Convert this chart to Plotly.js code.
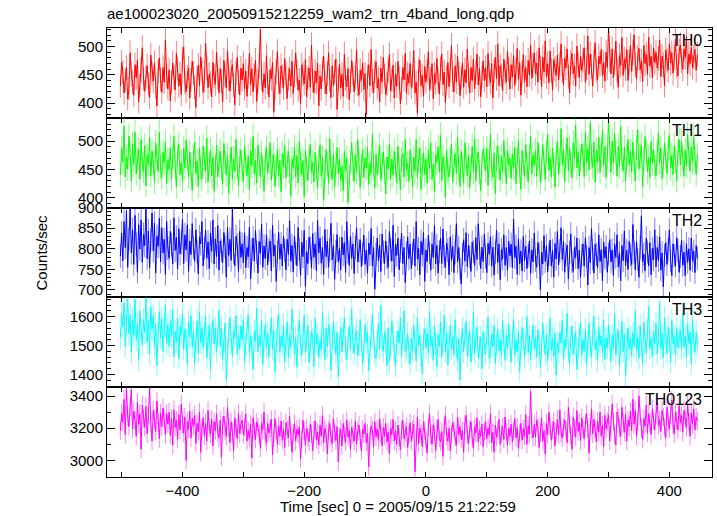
<!DOCTYPE html>
<html>
<head>
<meta charset="utf-8">
<script src="https://cdn.plot.ly/plotly-3.0.1.min.js"></script>
<style>html,body{margin:0;padding:0;background:#fff;}#chart{width:717px;height:516px;}</style>
</head>
<body>
<div id="chart"></div>
<script>
// Time bins (sec from 2005/09/15 21:22:59)
const tStart = -502;
const tStep = 2;

const th0 = [
430,472,455,418,441,463,407,426,489,451,437,414,468,445,476,402,431,459,498,443,
421,447,466,433,410,485,452,439,471,428,395,456,480,442,419,463,437,512,448,425,
459,404,437,471,446,423,488,461,430,452,415,478,499,436,420,447,462,409,441,474,
453,428,392,445,467,431,482,458,419,440,506,463,427,451,436,411,472,448,433,490,
445,418,461,439,402,476,450,427,493,444,421,456,468,432,397,453,481,438,415,462,
441,470,425,457,412,446,488,433,461,420,449,476,403,438,465,531,444,419,452,427,
484,436,411,459,443,472,384,428,455,491,437,417,466,448,426,479,452,408,443,461,
430,474,417,449,489,456,423,441,399,468,452,434,477,411,445,462,428,503,440,418,
457,436,471,395,448,425,460,483,437,416,452,489,441,410,466,431,454,478,389,442,
469,427,451,412,487,443,429,461,406,438,475,452,420,445,494,433,414,458,440,471,
424,452,380,447,468,431,495,439,418,456,473,427,444,402,462,437,481,449,415,433,
458,486,422,440,467,409,451,430,474,445,399,426,463,441,488,417,452,435,470,428,
447,493,418,437,382,459,476,431,449,412,465,438,456,491,424,443,470,408,452,435,
479,440,416,461,487,433,455,401,446,472,429,458,502,441,420,466,437,483,452,413,
445,471,428,459,436,496,449,418,463,440,478,425,454,487,432,461,411,447,475,440,
463,429,488,452,436,470,409,457,481,443,505,431,466,449,422,478,454,437,492,460,
425,468,446,484,431,458,497,442,472,414,455,486,438,463,429,476,450,503,444,467,
489,452,471,437,498,463,429,481,455,510,446,470,436,492,458,423,477,461,449,485,
441,468,505,457,432,479,462,496,447,418,473,488,452,466,430,501,469,445,483,458,
476,498,437,462,519,451,487,465,430,474,507,458,441,483,469,495,448,472,439,490,
463,533,477,452,496,445,471,510,458,428,484,467,516,449,478,461,495,440,473,502,
456,489,521,468,443,481,497,459,474,438,502,470,486,451,517,466,483,445,498,472,
490,462,479,512,447,483,468,431,494,476,458,505,471,489,453,480,513,466,448,492,
503,475,460,496,481,518,452,487,470,499,463,482,495,458,486];

const th1 = [
441,488,463,526,437,472,451,509,478,430,495,458,516,442,469,485,433,503,460,447,
492,421,475,458,506,439,482,463,428,497,471,446,515,453,436,480,462,498,425,467,
450,489,433,471,508,457,419,476,494,441,463,430,487,452,502,468,437,481,455,413,
474,498,443,465,420,487,452,433,491,469,447,505,428,461,484,439,472,412,456,493,
437,468,482,451,425,496,462,441,475,408,458,489,433,470,447,503,455,421,466,484,
450,429,491,462,438,474,415,483,457,508,442,466,426,493,460,437,479,451,412,470,
488,445,463,497,431,458,476,420,452,485,439,466,411,478,455,492,436,461,482,447,
403,468,452,489,437,475,426,499,458,441,466,402,483,450,431,472,494,445,462,428,
480,453,417,465,493,438,471,396,447,485,459,426,504,452,433,476,420,461,489,442,
468,431,456,413,482,447,470,392,438,463,497,451,429,476,445,503,466,418,457,484,
436,470,452,489,424,461,443,512,455,418,477,440,465,493,431,458,481,446,407,472,
451,495,433,468,440,482,459,426,491,452,414,467,478,437,503,449,461,429,485,456,
419,472,447,503,436,465,488,414,458,479,441,469,426,485,452,497,433,460,411,476,
463,490,445,510,431,472,456,401,484,449,437,468,495,428,461,478,443,507,452,420,
482,457,426,497,468,439,475,418,453,491,446,504,430,467,481,444,412,459,486,470,
448,487,422,464,512,451,436,479,408,469,492,455,431,474,446,501,462,425,484,457,
470,434,478,452,489,425,466,501,447,415,483,461,437,494,456,428,471,509,443,476,
457,483,438,497,471,427,451,494,465,432,480,512,449,471,437,488,460,419,476,499,
441,466,522,458,485,429,473,506,447,488,462,435,497,470,528,453,481,439,467,495,
476,437,516,461,488,449,532,472,454,498,428,483,463,507,445,475,519,458,490,436,
471,540,486,445,500,461,512,479,438,491,455,526,467,448,489,430,474,503,458,482,
446,498,463,430,489,520,451,474,493,420,467,508,481,446,472,436,499,461,485,453,
439,478,515,462,488,434,457,497,471,443,486,510,452,475,441,492,466,430,481,503,
458,499,470,438,484,456,512,475,447,490,462,507,468,441,476];

const th2 = [
782,838,771,866,803,892,755,824,897,790,846,762,881,812,743,858,799,870,767,835,
808,899,776,843,754,821,887,795,862,741,830,806,874,768,851,790,823,738,866,801,
777,842,810,763,875,796,828,751,849,788,815,872,764,834,797,858,745,819,786,861,
803,770,846,792,739,829,812,866,758,801,845,777,817,752,838,794,870,763,824,781,
856,748,819,795,767,840,806,731,852,784,823,772,897,791,758,830,809,745,842,779,
812,766,839,754,803,781,852,727,798,826,770,845,792,741,818,789,860,755,807,776,
834,761,797,819,746,857,783,809,721,792,840,775,812,758,831,796,749,823,786,868,
770,808,744,831,789,759,852,798,735,816,781,845,709,793,764,828,801,753,837,779,
812,747,869,790,826,765,803,738,847,781,819,755,797,862,773,808,726,794,835,768,
801,749,828,785,815,743,866,792,760,831,777,812,740,803,851,768,795,822,756,788,
833,762,797,741,814,786,849,758,803,702,787,826,771,808,745,836,792,764,819,779,
755,842,798,770,857,733,811,784,826,749,795,838,764,803,718,790,829,776,812,752,
789,824,758,866,775,801,737,818,785,840,721,797,769,833,790,748,812,779,856,763,
808,741,793,826,764,848,781,755,814,796,737,829,772,806,742,790,861,768,803,751,
714,787,822,770,839,757,808,781,745,816,793,759,827,774,861,788,752,804,769,836,
779,742,813,787,829,758,804,736,791,845,767,812,725,798,776,834,760,803,748,818,
783,811,754,872,779,806,738,824,763,795,746,830,771,806,752,784,819,740,797,768,
838,772,755,815,788,701,792,763,832,769,807,744,786,821,758,796,731,813,775,842,
761,795,851,774,818,743,786,809,727,792,836,768,745,803,779,826,752,797,731,784,
812,758,827,781,712,803,766,849,775,741,811,787,753,834,769,798,722,816,778,805,
743,787,822,768,797,735,812,779,834,756,790,722,808,771,843,759,796,750,818,785,
762,859,792,749,817,774,731,803,880,769,787,746,826,792,758,815,737,801,773,846,
756,803,771,829,748,790,708,784,815,762,797,846,771,735,812,784,758,827,796,743,
781,821,760,792,735,812,767,800,748,826,771,794,742,808,776];

const th3 = [
1528,1612,1565,1648,1497,1580,1662,1541,1607,1476,1593,1535,1660,1519,1574,1448,1621,1556,1503,1590,
1545,1667,1512,1588,1470,1634,1558,1602,1495,1575,1430,1546,1617,1527,1594,1480,1563,1641,1508,1572,
1498,1587,1532,1624,1461,1549,1512,1595,1455,1566,1538,1612,1487,1558,1520,1436,1583,1530,1603,1496,
1548,1439,1520,1585,1474,1616,1510,1563,1492,1540,1601,1457,1528,1572,1418,1546,1590,1505,1561,1479,
1537,1622,1497,1561,1452,1515,1578,1380,1484,1540,1596,1511,1463,1552,1527,1604,1470,1535,1489,1568,
1520,1589,1445,1503,1558,1607,1476,1535,1492,1418,1549,1516,1630,1478,1534,1500,1587,1435,1520,1574,
1493,1543,1462,1527,1596,1487,1553,1410,1508,1565,1610,1476,1532,1498,1571,1443,1519,1582,1458,1537,
1495,1624,1551,1470,1529,1425,1545,1588,1502,1466,1531,1604,1477,1515,1569,1442,1498,1550,1522,1428,
1593,1506,1538,1460,1520,1487,1615,1505,1452,1561,1496,1573,1540,1415,1528,1583,1519,1471,1546,1392,
1501,1563,1478,1535,1598,1492,1450,1522,1566,1487,1627,1510,1473,1530,1554,1465,1502,1590,1521,1438,
1484,1573,1511,1545,1412,1496,1538,1609,1525,1470,1455,1518,1577,1489,1640,1503,1480,1547,1519,1430,
1561,1444,1497,1586,1532,1478,1428,1512,1551,1509,1595,1461,1527,1620,1479,1490,1541,1468,1436,1524,
1483,1570,1516,1447,1596,1502,1535,1468,1402,1522,1558,1491,1543,1474,1619,1499,1529,1451,1567,1505,
1426,1538,1496,1582,1460,1517,1605,1477,1544,1433,1512,1570,1487,1531,1469,1590,1495,1448,1524,1382,
1509,1561,1478,1536,1584,1462,1501,1552,1443,1488,1617,1472,1527,1563,1458,1494,1530,1419,1548,1506,
1472,1532,1598,1455,1479,1541,1496,1569,1438,1503,1557,1481,1520,1465,1588,1513,1449,1537,1491,1574,
1504,1443,1526,1592,1467,1518,1480,1549,1410,1497,1563,1522,1458,1509,1601,1476,1535,1452,1518,1571,
1489,1530,1461,1555,1507,1425,1493,1578,1516,1470,1538,1447,1502,1595,1484,1526,1462,1543,1398,1511,
1476,1547,1509,1588,1453,1520,1495,1612,1481,1437,1529,1566,1470,1503,1547,1418,1492,1535,1582,1466,
1521,1480,1556,1435,1509,1578,1495,1462,1541,1603,1487,1518,1447,1565,1500,1533,1476,1590,1452,1526,
1493,1571,1514,1445,1536,1490,1610,1468,1522,1553,1431,1507,1584,1478,1540,1395,1515,1562,1486,1530,
1464,1545,1497,1620,1481,1528,1456,1569,1503,1437,1582,1512,1474,1551,1635,1490,1526,1462,1548,1505,
1577,1472,1533,1650,1489,1541,1458,1596,1510,1473,1563,1521,1442,1587,1506,1534,1468,1559,1492,1528,
1553,1487,1612,1496,1532,1461,1575,1508,1546,1437,1590,1518,1476,1548,1502];

const th0123 = [
3185,3290,3240,3380,3160,3445,3275,3210,3330,3440,3195,3305,3250,3150,3360,3225,3290,3070,3345,3260,
3205,3335,3165,3280,3450,3230,3120,3310,3255,3180,3370,3240,3135,3295,3210,3325,3260,3160,3290,3225,
3300,3155,3260,3095,3315,3205,3250,3130,3285,3190,3350,3225,3170,3270,3000,3240,3195,3305,3140,3260,
3215,3280,3105,3230,3180,3300,3050,3195,3265,3150,3230,3120,3310,3205,3165,3255,3090,3240,3185,3290,
3175,3140,3250,3020,3220,3275,3185,3150,3330,3210,3110,3240,3175,3060,3265,3200,3135,3290,3165,3225,
3250,3160,3205,3290,3120,3185,3140,3225,3015,3265,3180,3130,3240,3210,3165,3075,3230,3190,3300,3145,
3110,3230,3170,3200,3255,3035,3140,3260,3185,3100,3215,3150,3245,3125,3195,3080,3235,3190,3140,3275,
3155,3050,3170,3230,3120,3195,3160,3205,3010,3135,3250,3180,3095,3200,3140,3115,3225,3165,3060,3190,
3245,3130,3175,3095,3220,3150,3280,3110,3200,3165,3040,3185,3230,3140,3105,3260,3170,3125,3210,2990,
3150,3195,3090,3230,3160,3115,3250,3145,3185,3070,3205,3160,3120,3245,3100,3180,3220,3135,3060,3195,
3165,3230,3110,3170,2960,3150,3215,3185,3085,3240,3145,3195,3125,3260,3170,3090,3205,3150,3230,3115,
3175,3040,3200,3160,3255,3120,3185,3100,3220,3145,3065,3190,3250,3135,3175,3210,3080,3160,3235,3120,
3190,3225,2930,3150,3270,3105,3200,3165,3085,3240,3185,3130,3045,3210,3290,3155,3100,3220,3175,3060,
3195,3255,3140,3115,3180,3025,3215,3280,3150,3120,3200,3060,3165,3235,3190,3145,3095,3270,3160,3210,
3130,3185,3050,3225,3280,3160,3105,3195,3240,3140,3075,3210,3170,3265,3115,3190,3150,3225,3085,3180,
3240,3135,3200,3160,3290,3110,3175,3050,3220,3145,3185,3255,3100,3165,3210,3130,3270,3175,3095,3200,
3150,3225,3115,3185,3260,3140,3205,3075,3170,3230,3125,3195,3150,3285,3100,3215,3165,3430,3190,3140,
3225,3145,3250,3205,3080,3170,3265,3120,3185,3040,3230,3160,3300,3215,3125,3190,3240,3090,3175,3255,
3160,3315,3170,3140,3205,3250,3190,3110,3330,3225,3155,3070,3270,3200,3145,3310,3180,3235,3120,3265,
3195,3135,3235,3290,3200,3045,3210,3320,3165,3255,3190,3115,3245,3175,3300,3150,3220,3085,3280,3195,
3240,3280,3120,3215,3350,3240,3160,3095,3300,3265,3200,3150,3330,3230,3175,3285,3120,3250,3210,3305,
3185,3380,3225,3310,3150,3240,3400,3275,3195,3130,3260,3215,3345,3170,3290,3235,3160,3320,3245,3190,
3290,3360,3215,3250,3180,3310,3270,3205,3140,3330,3240,3195,3285,3375,3220,3165,3300,3250,3190,3340,
3235,3280,3175,3310,3260,3205,3350,3240,3150,3295,3225,3320,3190,3270,3245];

const bandNames = ["TH0","TH1","TH2","TH3","TH0123"];
const bandSeries = [th0, th1, th2, th3, th0123];
const xTitle = "Time [sec] 0 = 2005/09/15 21:22:59";
const yTitle = "Counts/sec";
const mainTitle = "ae100023020_20050915212259_wam2_trn_4band_long.qdp";

const lineColors = ["#ff0000","#00ff00","#0000ff","#00ffff","#ff00ff"];
const errColors = ["rgba(255,0,0,0.5)","rgba(0,255,0,0.5)","rgba(0,0,255,0.5)","rgba(0,255,255,0.5)","rgba(255,0,255,0.5)"];
const yRanges = [[374,533],[383,541],[682,900],[1356,1667],[2897,3455]];
const yMajor = [50,50,50,100,200];
const yMinor = [10,10,10,20,100];

const FONT = "Liberation Sans, Arial, Helvetica, sans-serif";
const traces = [];
const layout = {
  width: 717, height: 516,
  margin: {l: 107, r: 5, t: 28, b: 39},
  paper_bgcolor: "#fff", plot_bgcolor: "#fff",
  showlegend: false,
  font: {family: FONT, size: 15, color: "#000"},
  title: {text: mainTitle,
          font: {family: FONT, size: 15, color: "#000"},
          xref: "paper", x: 0, xanchor: "left",
          yref: "container", y: 1 - 14/516, yanchor: "middle"},
  annotations: [],
};

bandSeries.forEach((vals, i) => {
  const n = i + 1;
  const sfx = n === 1 ? "" : String(n);
  const xa = "x" + sfx;
  const ya = "y" + sfx;
  const times = vals.map((_, k) => tStart + k * tStep);
  traces.push({
    x: times, y: vals, type: "scatter", mode: "lines",
    xaxis: xa, yaxis: ya,
    line: {color: lineColors[i], width: 1},
    error_y: {visible: true, type: "sqrt", color: errColors[i], thickness: 1, width: 0},
    hoverinfo: "skip"
  });
  const bottom = (i === bandSeries.length - 1);
  const xax = {
    anchor: ya,
    range: [-524, 470], dtick: 200, tick0: 0,
    ticks: "inside", ticklen: 5, tickwidth: 1, tickcolor: "#000",
    minor: {dtick: 100, tick0: 0, ticks: "inside", ticklen: 5, tickcolor: "#000", tickwidth: 1},
    showline: true, linecolor: "#000", linewidth: 1, mirror: "ticks",
    showgrid: false, zeroline: false,
    showticklabels: bottom,
    tickfont: {family: FONT, size: 15, color: "#000"}
  };
  if (n !== 1) xax.matches = "x";
  layout["xaxis" + sfx] = xax;
  layout["yaxis" + sfx] = {
    anchor: xa,
    domain: [1 - (i + 1) * 0.2, 1 - i * 0.2],
    range: yRanges[i], dtick: yMajor[i], tick0: 0,
    ticks: "inside", ticklen: 8, tickwidth: 1, tickcolor: "#000",
    minor: {dtick: yMinor[i], tick0: 0, ticks: "inside", ticklen: 4, tickcolor: "#000", tickwidth: 1},
    showline: true, linecolor: "#000", linewidth: 1, mirror: "ticks",
    showgrid: false, zeroline: false,
    tickfont: {family: FONT, size: 15, color: "#000"}
  };
  layout.annotations.push({
    text: bandNames[i], showarrow: false,
    xref: "paper", x: 1, xanchor: "right", xshift: -8,
    yref: ya + " domain", y: 1, yanchor: "top", yshift: -2,
    font: {family: FONT, size: 16, color: "#000"}
  });
});

layout.annotations.push({
  text: yTitle, showarrow: false, textangle: -90,
  xref: "paper", x: (42 - 107) / 604.7, xanchor: "center",
  yref: "paper", y: 0.5, yanchor: "middle",
  font: {family: FONT, size: 15, color: "#000"}
});
layout.annotations.push({
  text: xTitle, showarrow: false,
  xref: "paper", x: (398 - 107) / 604.7, xanchor: "center",
  yref: "paper", y: -30 / 449, yanchor: "middle",
  font: {family: FONT, size: 15, color: "#000"}
});

Plotly.newPlot("chart", traces, layout, {displayModeBar: false, staticPlot: true});
</script>
</body>
</html>
